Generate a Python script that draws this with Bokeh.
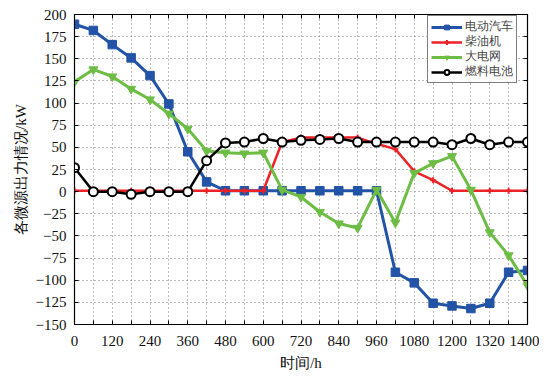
from bokeh.plotting import figure
from bokeh.models import FixedTicker, LinearAxis, Range1d, Legend, LegendItem
from bokeh.embed import file_html
from bokeh.resources import INLINE

# data
t = [0, 60, 120, 180, 240, 300, 360, 420, 480, 540, 600, 660, 720,
     780, 840, 900, 960, 1020, 1080, 1140, 1200, 1260, 1320, 1380, 1440]
ev = [189, 182, 166, 151, 131, 99, 45, 11, 1, 1, 1, 1, 1,
      1, 1, 1, 1, -91, -103, -126, -129, -132, -126, -91, -89]
diesel = [1, 1, 1, 1, 1, 1, 1, 1, 1, 1, 1, 56, 61,
          61, 61, 61, 54, 48, 23, 13, 1, 1, 1, 1, 1]
grid = [124, 138, 130, 116, 104, 88, 71, 46, 44, 43, 44, 2, -6,
        -23, -36, -41, 2, -35, 21, 32, 40, 2, -46, -72, -106]
fuel = [27, 0, 0, -3, 0, 0, 0, 35, 55, 56, 60, 56, 58,
        59, 60, 56, 56, 56, 56, 56, 53, 60, 53, 56, 56]

names = ["电动汽车", "柴油机", "大电网", "燃料电池"]
x_ticks = t
x_labels = {0: "0", 120: "120", 240: "240", 360: "360", 480: "480", 600: "600",
            720: "720", 840: "840", 960: "960", 1080: "1080", 1200: "1200",
            1320: "1320", 1440: "1400"}
y_ticks = [-150, -125, -100, -75, -50, -25, 0, 25, 50, 75, 100, 125, 150, 175, 200]

SERIF = "Liberation Serif"

p = figure(width=539, height=375, output_backend="svg", toolbar_location=None,
           x_range=Range1d(0, 1440), y_range=Range1d(-150, 200),
           min_border_left=74, min_border_right=12, min_border_top=14,
           min_border_bottom=51, background_fill_color="white",
           border_fill_color="white")
p.outline_line_color = "black"
p.outline_line_width = 1.2

def style_axis(ax, labels=True):
    ax.major_tick_in = 4
    ax.major_tick_out = 0
    ax.minor_tick_in = 0
    ax.minor_tick_out = 0
    ax.axis_line_color = "black"
    ax.major_tick_line_color = "black"
    if not labels:
        ax.major_label_text_font_size = "0px"
        ax.major_label_text_color = None

p.xaxis.ticker = FixedTicker(ticks=x_ticks)
p.yaxis.ticker = FixedTicker(ticks=y_ticks)
p.xaxis.major_label_overrides = {v: x_labels.get(v, "") for v in x_ticks}
p.yaxis.major_label_overrides = {v: (str(v) if v >= 0 else "\u2212" + str(-v)) for v in y_ticks}
for ax in (p.xaxis[0], p.yaxis[0]):
    style_axis(ax)
    ax.major_label_text_font = SERIF
    ax.major_label_text_font_size = "15px"
    ax.major_label_text_color = "#111111"
    ax.axis_label_text_font = SERIF
    ax.axis_label_text_font_size = "15px"
    ax.axis_label_text_font_style = "normal"
    ax.axis_label_text_color = "#111111"
p.xaxis.major_label_standoff = 11
p.yaxis.major_label_standoff = 8
p.xaxis.axis_label = "时间/h"
p.yaxis.axis_label = "各微源出力情况/kW"
p.xaxis.axis_label_standoff = 6
p.yaxis.axis_label_standoff = 4

top = LinearAxis(ticker=FixedTicker(ticks=x_ticks))
style_axis(top, labels=False)
p.add_layout(top, "above")
right = LinearAxis(ticker=FixedTicker(ticks=y_ticks))
style_axis(right, labels=False)
p.add_layout(right, "right")

p.xgrid.ticker = FixedTicker(ticks=x_ticks)
p.ygrid.ticker = FixedTicker(ticks=y_ticks)
for g in (p.xgrid[0], p.ygrid[0]):
    g.grid_line_color = "#555555"
    g.grid_line_dash = "1 3"
    g.grid_line_width = 1
    g.grid_line_alpha = 0.8

BLUE = "#2253a6"
RED = "#ec2227"
GREEN = "#6dbd45"
BLACK = "#000000"

items = []
r1 = p.line(t, ev, line_color=BLUE, line_width=3)
m1 = p.scatter(t, ev, marker="square", size=8.5, fill_color=BLUE, line_color=BLUE)
items.append(LegendItem(label=names[0], renderers=[r1, m1]))
r2 = p.line(t, diesel, line_color=RED, line_width=2.5)
m2 = p.scatter(t, diesel, marker="cross", size=6, line_color=RED, line_width=2)
items.append(LegendItem(label=names[1], renderers=[r2, m2]))
r3 = p.line(t, grid, line_color=GREEN, line_width=3)
m3 = p.scatter(t, grid, marker="inverted_triangle", size=9, fill_color=GREEN, line_color=GREEN)
items.append(LegendItem(label=names[2], renderers=[r3, m3]))
r4 = p.line(t, fuel, line_color=BLACK, line_width=2.5)
m4 = p.scatter(t, fuel, marker="circle", size=9, fill_color="white", line_color=BLACK, line_width=2)
items.append(LegendItem(label=names[3], renderers=[r4, m4]))

leg = Legend(items=items, location=(353, 241))
leg.label_text_font = SERIF
leg.label_text_font_size = "11.5px"
leg.label_height = 12
leg.glyph_height = 12
leg.glyph_width = 31
leg.spacing = 0
leg.padding = 3
leg.margin = 0
leg.label_standoff = 3
leg.border_line_color = "black"
leg.border_line_width = 1
leg.background_fill_color = "white"
leg.background_fill_alpha = 1
p.add_layout(leg, "center")

open("out.html", "w").write(file_html(p, INLINE))
